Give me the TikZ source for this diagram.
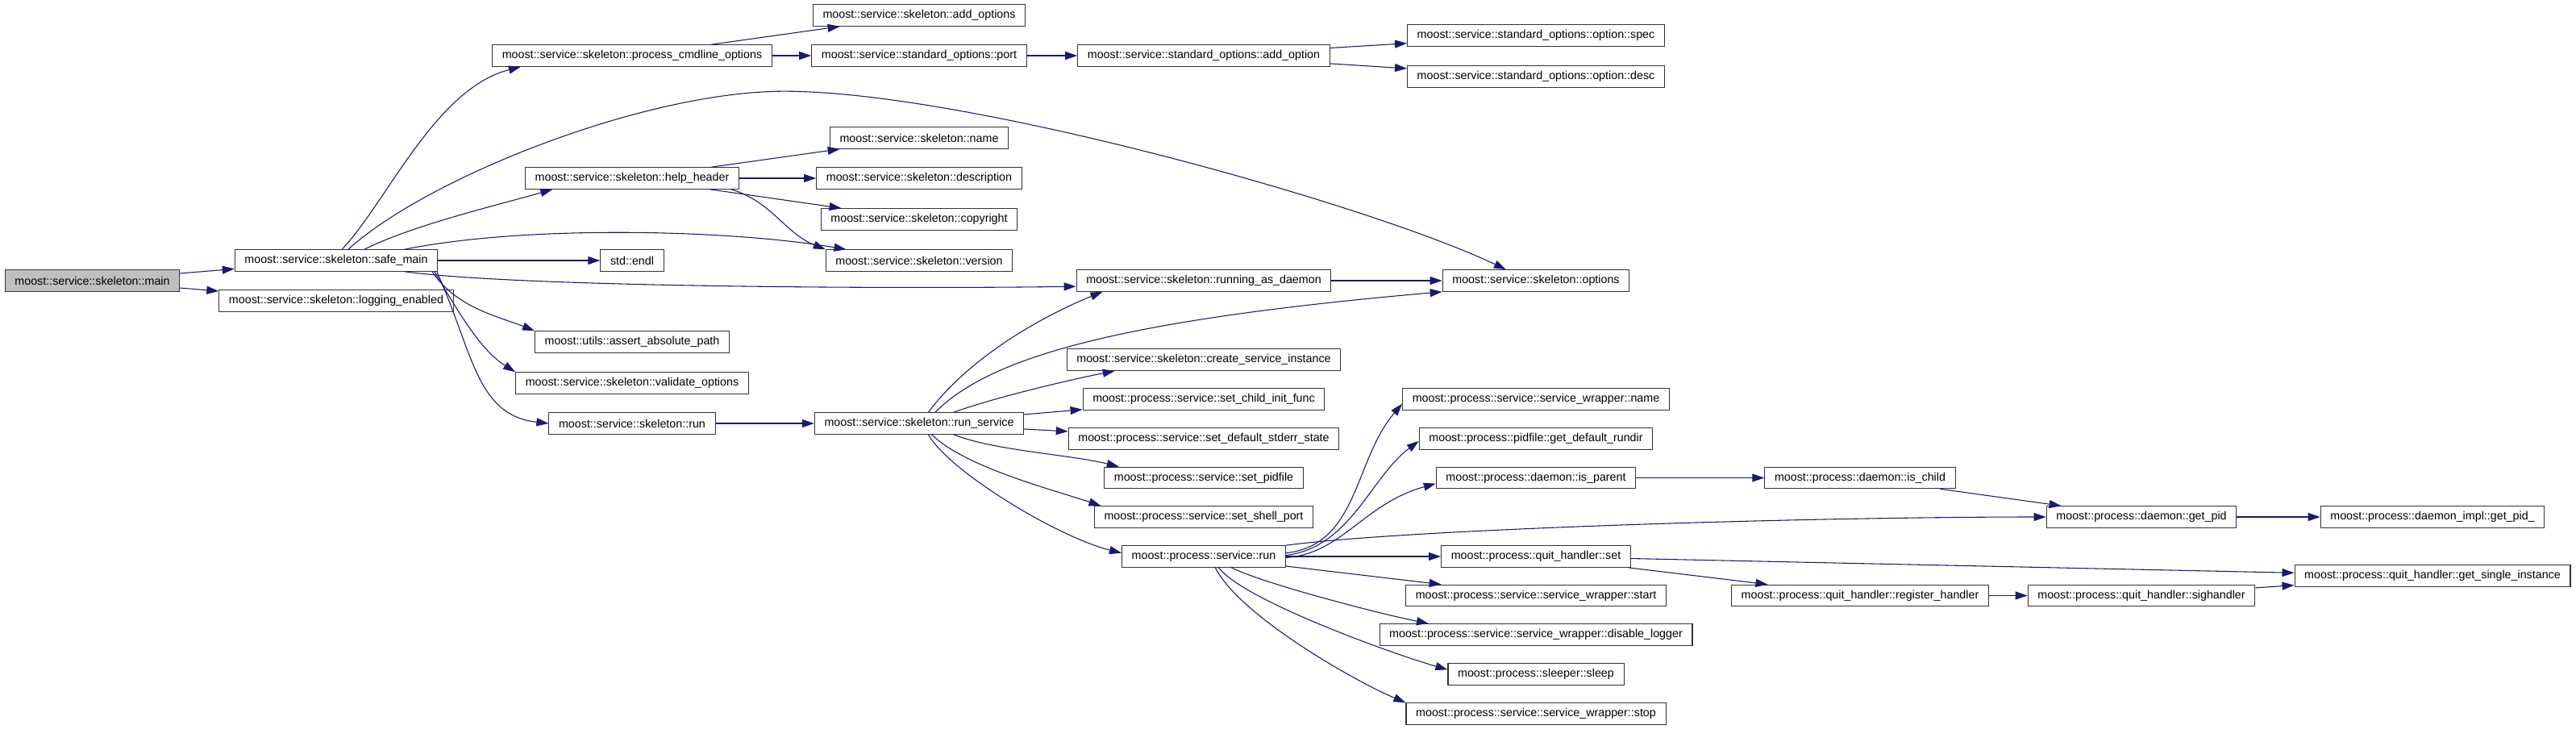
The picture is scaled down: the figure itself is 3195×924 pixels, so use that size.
\documentclass[tikz,border=0pt]{standalone}
\usepackage{fontspec}
\setmainfont{Liberation Sans}
\usetikzlibrary{arrows.meta}
\definecolor{edgeblue}{HTML}{191970}
\definecolor{rootgrey}{HTML}{BFBFBF}

\begin{document}
\begin{tikzpicture}[x=0.7pt,y=-0.7pt,
  fn/.style={draw=black!80,line width=0.75pt,fill=white,minimum height=18.6pt,
    inner xsep=8.5pt,inner ysep=0pt},
  fnroot/.style={fn,fill=rootgrey},
  call/.style={draw=edgeblue,line width=0.75pt,-{Triangle[length=10.5pt,width=7pt]}}]
\useasboundingbox (0,0) rectangle (3195,924);

% Caller at the far left, one column of callees per call depth.
\node[fnroot] (main) at (114.5,348) {moost::service::skeleton::main};
\foreach \x/\y/\n/\t in {
  417/323/safemain/moost::service::skeleton::safe\_main,
  417/373/logen/moost::service::skeleton::logging\_enabled,
  784/69/cmdline/moost::service::skeleton::process\_cmdline\_options,
  784/221/hhdr/moost::service::skeleton::help\_header,
  784/323/endl/std::endl,
  784/424/assertp/moost::utils::assert\_absolute\_path,
  784/475/validopts/moost::service::skeleton::validate\_options,
  784/525/skrun/moost::service::skeleton::run,
  1140/19/addopts/moost::service::skeleton::add\_options,
  1140/69/port/moost::service::standard\_options::port,
  1140/171/sname/moost::service::skeleton::name,
  1140/221/sdesc/moost::service::skeleton::description,
  1140/272/scopy/moost::service::skeleton::copyright,
  1140/323/sver/moost::service::skeleton::version,
  1140/525/runsvc/moost::service::skeleton::run\_service,
  1493/69/addopt/moost::service::standard\_options::add\_option,
  1493/348/rad/moost::service::skeleton::running\_as\_daemon,
  1493/446/csi/moost::service::skeleton::create\_service\_instance,
  1493/495/setcif/moost::process::service::set\_child\_init\_func,
  1493/544/setdss/moost::process::service::set\_default\_stderr\_state,
  1493/592.5/setpid/moost::process::service::set\_pidfile,
  1493/641/setshp/moost::process::service::set\_shell\_port,
  1493/690/psrun/moost::process::service::run,
  1905/44/optspec/moost::service::standard\_options::option::spec,
  1905/95/optdesc/moost::service::standard\_options::option::desc,
  1905/348/options/moost::service::skeleton::options,
  1905/495/swname/moost::process::service::service\_wrapper::name,
  1905/544/rundir/moost::process::pidfile::get\_default\_rundir,
  1905/592.5/isparent/moost::process::daemon::is\_parent,
  1905/690/qhset/moost::process::quit\_handler::set,
  1905/738.5/swstart/moost::process::service::service\_wrapper::start,
  1905/787/swdislog/moost::process::service::service\_wrapper::disable\_logger,
  1905/836/sleep/moost::process::sleeper::sleep,
  1905/885/swstop/moost::process::service::service\_wrapper::stop,
  2307/592.5/ischild/moost::process::daemon::is\_child,
  2307/738.5/qhreg/moost::process::quit\_handler::register\_handler,
  2656/641/getpid/moost::process::daemon::get\_pid,
  2656/738.5/qhsig/moost::process::quit\_handler::sighandler,
  3017/641/getpidimpl/moost::process::daemon\_impl::get\_pid\_,
  3017/714/qhsingle/moost::process::quit\_handler::get\_single\_instance}
  \node[fn] (\n) at (\x,\y) {\t};

% Straight calls, centre to centre.
\foreach \a/\b in {main/safemain,main/logen,safemain/endl,cmdline/addopts,
  cmdline/port,port/addopt,addopt/optspec,addopt/optdesc,hhdr/sname,
  hhdr/sdesc,hhdr/scopy,rad/options,skrun/runsvc,runsvc/setcif,
  runsvc/setdss,psrun/qhset,psrun/swstart,isparent/ischild,ischild/getpid,
  getpid/getpidimpl,qhset/qhsingle,qhset/qhreg,qhreg/qhsig,qhsig/qhsingle}
  \draw[call] (\a) -- (\b);

% Bent calls.
\draw[call] ([xshift=5pt]safemain.north) .. controls +(56,-59) and +(-106,27) .. ([xshift=25pt]cmdline.south west);
\draw[call] ([xshift=10.5pt]safemain.north) .. controls +(98,-89) and +(-173,0) .. ++(541,-196)
  .. controls +(227,0) and +(-168,-80) .. ([xshift=-26pt]options.north);
\draw[call] ([xshift=24.5pt]safemain.north) .. controls +(60,-30) and +(-70,20) .. ([xshift=24pt]hhdr.south west);
\draw[call] ([xshift=-29pt]safemain.north east) .. controls +(150,-30) and +(-150,-25) .. ([xshift=18pt]sver.north west);
\draw[call] ([xshift=-29pt]safemain.south east) .. controls +(150,20) and +(-200,3) .. ([yshift=-5pt]rad.west);
\draw[call] ([xshift=-5pt]safemain.south east) .. controls +(30,45) and +(-45,-18) .. (assertp.north west);
\draw[call] ([xshift=-3pt]safemain.south east) .. controls +(35,60) and +(-40,-25) .. (validopts.north west);
\draw[call] ([xshift=-1pt]safemain.south east) .. controls +(45,100) and +(-90,-10) .. (skrun.west);
\draw[call] ([xshift=-7pt]hhdr.south east) .. controls +(50,15) and +(-50,-20) .. (sver.north west);
\draw[call] ([xshift=8pt]runsvc.north) .. controls +(60,-80) and +(-50,20) .. ([xshift=23pt]rad.south west);
\draw[call] ([xshift=14pt]runsvc.north) .. controls +(70,-71) and +(-389,34) .. (options.south west);
\draw[call] ([xshift=30pt]runsvc.north) .. controls +(50,-18) and +(-60,12) .. ([xshift=42pt]csi.south west);
\draw[call] ([xshift=30pt]runsvc.south) .. controls +(50,20) and +(-60,-15) .. ([xshift=13pt]setpid.north west);
\draw[call] ([xshift=11pt]runsvc.south) .. controls +(40,40) and +(-60,-20) .. ([xshift=6pt]setshp.north west);
\draw[call] ([xshift=8pt]runsvc.south) .. controls +(25,45) and +(-80,-20) .. ([yshift=3pt]psrun.west);
\draw[call] ([yshift=3pt]psrun.east) .. controls +(90,-10) and +(-60,70) .. ([yshift=-4pt]swname.west);
\draw[call] ([yshift=1pt]psrun.east) .. controls +(80,-10) and +(-60,45) .. ([yshift=-2pt]rundir.west);
\draw[call] ([yshift=-1pt]psrun.east) .. controls +(70,-5) and +(-90,25) .. ([yshift=-5pt]isparent.west);
\draw[call] (psrun.north east) .. controls +(150,-20) and +(-300,0) .. (getpid.west);
\draw[call] ([xshift=24pt]psrun.south) .. controls +(40,20) and +(-60,-12) .. ([xshift=43pt]swdislog.north west);
\draw[call] ([xshift=13pt]psrun.south) .. controls +(30,40) and +(-70,-20) .. ([yshift=4pt]sleep.west);
\draw[call] ([xshift=10pt]psrun.south) .. controls +(30,60) and +(-60,-25) .. (swstop.north west);
\end{tikzpicture}
\end{document}
